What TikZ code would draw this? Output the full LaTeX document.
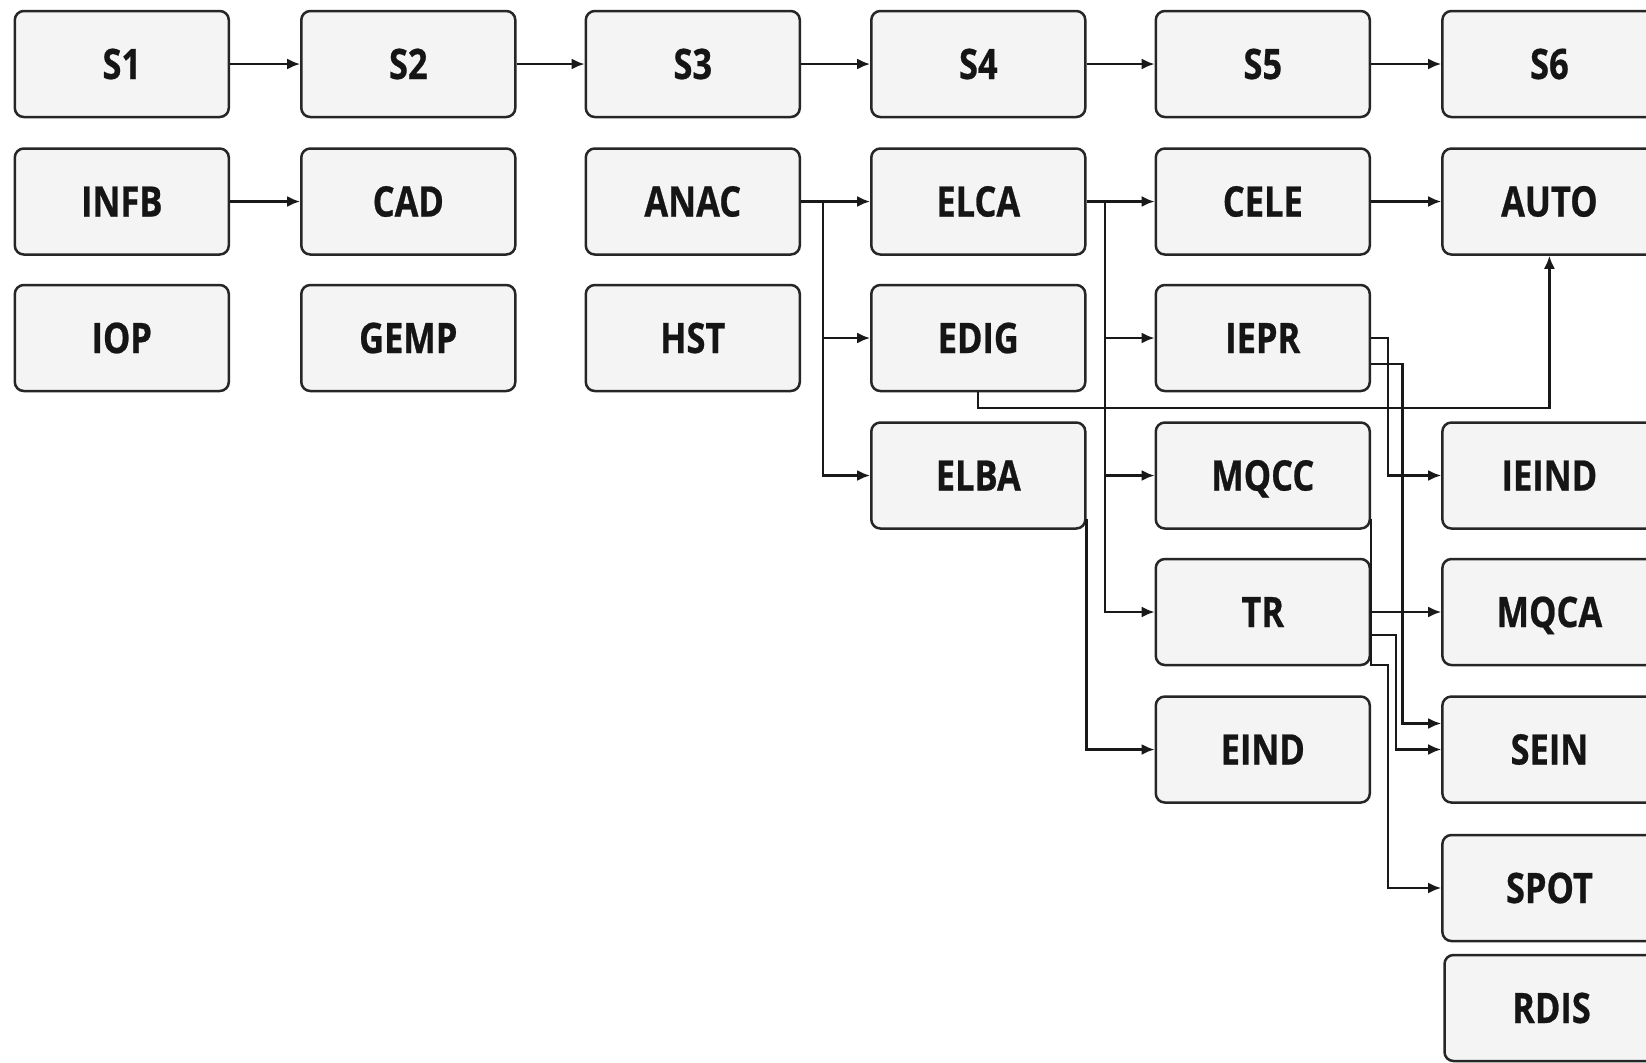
\documentclass[tikz,border=0pt]{standalone}
\usepackage{fontspec}
\newfontfamily\boxfont{Open Sans}[FakeStretch=0.82,FakeBold=0.6]
\usetikzlibrary{arrows.meta,calc}
\definecolor{boxfill}{HTML}{F4F4F4}
\definecolor{boxline}{HTML}{262626}
\definecolor{txt}{HTML}{151515}
\tikzset{
  blk/.style={draw=boxline, line width=1.25pt, fill=boxfill, rounded corners=4.5pt,
    minimum width=107pt, minimum height=53pt, inner sep=0pt,
    text height=15pt, text depth=0pt,
    font=\boxfont\bfseries\fontsize{21}{24}\selectfont, text=txt},
  ln/.style={draw=black!90, line width=1.1pt},
  arr/.style={ln, -{Latex[length=6.5pt,width=5.5pt]}}
}
\begin{document}
\begin{tikzpicture}[x=0.5pt,y=-0.5pt]
\clip (0,0) rectangle (1646,1062);
\fill[white] (0,0) rectangle (1646,1062);
% row 1
\node[blk] (S1) at (121.8,64) {S1};
\node[blk] (S2) at (408.3,64) {S2};
\node[blk] (S3) at (692.8,64) {S3};
\node[blk] (S4) at (978.3,64) {S4};
\node[blk] (S5) at (1262.8,64) {S5};
\node[blk] (S6) at (1549.4,64) {S6};
% row 2
\node[blk] (INFB) at (121.8,201.5) {INFB};
\node[blk] (CAD)  at (408.3,201.5) {CAD};
\node[blk] (ANAC) at (692.8,201.5) {ANAC};
\node[blk] (ELCA) at (978.3,201.5) {ELCA};
\node[blk] (CELE) at (1262.8,201.5) {CELE};
\node[blk] (AUTO) at (1549.4,201.5) {AUTO};
% row 3
\node[blk] (IOP)  at (121.8,338) {IOP};
\node[blk] (GEMP) at (408.3,338) {GEMP};
\node[blk] (HST)  at (692.8,338) {HST};
\node[blk] (EDIG) at (978.3,338) {EDIG};
\node[blk] (IEPR) at (1262.8,338) {IEPR};
% row 4
\node[blk] (ELBA)  at (978.3,475.5) {ELBA};
\node[blk] (MQCC)  at (1262.8,475.5) {MQCC};
\node[blk] (IEIND) at (1549.4,475.5) {IEIND};
% row 5
\node[blk] (TR)   at (1262.8,612) {TR};
\node[blk] (MQCA) at (1549.4,612) {MQCA};
% row 6
\node[blk] (EIND) at (1262.8,749.5) {EIND};
\node[blk] (SEIN) at (1549.4,749.5) {SEIN};
% row 7-8
\node[blk] (SPOT) at (1549.4,888) {SPOT};
\node[blk] (RDIS) at (1551.5,1008) {RDIS};

% connectors
\draw[arr] (S1) -- (S2);
\draw[arr] (S2) -- (S3);
\draw[arr] (S3) -- (S4);
\draw[arr] (S4) -- (S5);
\draw[arr] (S5) -- (S6);
\draw[arr] (INFB) -- (CAD);
\draw[arr] (CELE) -- (AUTO);
\draw[arr] (TR) -- (MQCA);

\coordinate (ja) at (823,201.5);
\draw[ln] (ANAC.east) -- (ja);
\draw[arr] (ja) -- (ELCA.west);
\draw[arr] (ja) |- (EDIG.west);
\draw[arr] (ja) |- (ELBA.west);

\coordinate (jb) at (1105,201.5);
\draw[ln] (ELCA.east) -- (jb);
\draw[arr] (jb) -- (CELE.west);
\draw[arr] (jb) |- (IEPR.west);
\draw[arr] (jb) |- (MQCC.west);
\draw[arr] (jb) |- (TR.west);

\draw[arr] ([yshift=5.5pt]ELBA.south east) |- (EIND.west);
\draw[arr] (EDIG.south) -- ++(0,15.7) -| (AUTO.south);
\draw[arr] (IEPR.east) -- ++(17,0) |- (IEIND.west);
\draw[arr] ([yshift=-13pt]IEPR.east) -- ++(31.5,0) |- ([yshift=13pt]SEIN.west);
\draw[arr] ([yshift=-11.5pt]TR.east) -- ++(24.6,0) |- (SEIN.west);
\draw[arr] ([yshift=5.5pt]MQCC.south east) -- ++(0,146) -- ++(17,0) |- (SPOT.west);
\end{tikzpicture}
\end{document}
